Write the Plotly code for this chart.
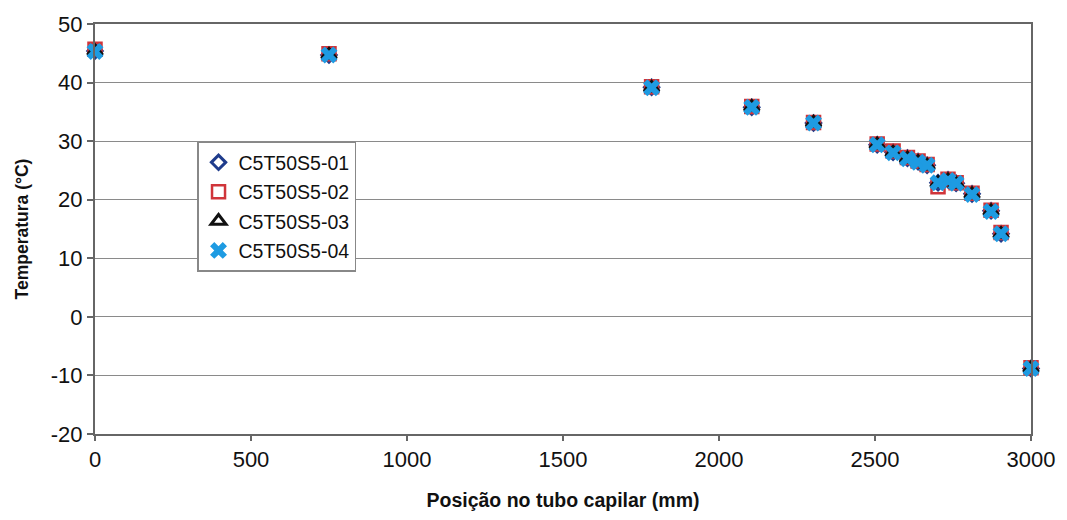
import plotly.graph_objects as go

positions = [0, 750, 1784, 2105, 2303, 2507, 2558, 2604, 2638, 2667, 2702, 2734, 2760, 2811, 2872, 2904, 3000]
temp_01 = [45.4, 44.7, 39.2, 35.8, 33.1, 29.4, 28.1, 27.1, 26.5, 25.9, 22.9, 23.4, 22.8, 21.0, 18.1, 14.2, -8.8]
temp_02 = [45.7, 44.9, 39.3, 35.9, 33.2, 29.5, 28.3, 27.2, 26.6, 26.0, 22.2, 23.5, 22.9, 21.1, 18.2, 14.4, -8.7]
temp_03 = [45.3, 44.7, 39.1, 35.8, 33.1, 29.4, 28.0, 27.0, 26.4, 25.8, 22.8, 23.3, 22.7, 20.9, 18.0, 14.1, -8.8]
temp_04 = [45.3, 44.7, 39.1, 35.8, 33.1, 29.4, 28.0, 27.0, 26.4, 25.9, 22.9, 23.3, 22.8, 20.9, 18.0, 14.2, -8.8]
series_names = ["C5T50S5-01", "C5T50S5-02", "C5T50S5-03", "C5T50S5-04"]
x_ticks = [0, 500, 1000, 1500, 2000, 2500, 3000]
y_ticks = [-20, -10, 0, 10, 20, 30, 40, 50]

styles = [
    dict(symbol="diamond-open", color="#1f3c8c", size=11, line=dict(width=3, color="#1f3c8c")),
    dict(symbol="square-open", color="#d0353a", size=13, line=dict(width=2.5, color="#d0353a")),
    dict(symbol="triangle-up-open", color="#111111", size=13, line=dict(width=3, color="#111111")),
    dict(symbol="x", color="#1e9be2", size=15, line=dict(width=0)),
]

fig = go.Figure()
for name, ys, st in zip(series_names, [temp_01, temp_02, temp_03, temp_04], styles):
    fig.add_trace(go.Scatter(
        x=positions, y=ys, mode="markers", name=name, legendgroup=name,
        marker=st, cliponaxis=False,
    ))

fig.update_layout(
    width=1067, height=520,
    margin=dict(l=95, r=35, t=21, b=86),
    paper_bgcolor="white", plot_bgcolor="white",
    font=dict(family="Liberation Sans, Arial, sans-serif", color="black"),
    showlegend=True,
    legend=dict(
        x=0.109, y=0.713, xanchor="left", yanchor="top",
        bgcolor="white", bordercolor="#888888", borderwidth=1.5,
        font=dict(size=19.5, color="#111111"),
        tracegroupgap=1, itemwidth=30,
    ),
)
fig.update_xaxes(
    range=[0, 3000], tickvals=x_ticks, ticktext=[str(v) for v in x_ticks],
    showgrid=False, showline=True, linecolor="#666666", linewidth=2, mirror=True,
    ticks="outside", ticklen=5, tickcolor="#666666", tickwidth=1.5,
    tickfont=dict(size=22, color="#111111"),
    title=dict(text="<b>Posição no tubo capilar (mm)</b>", font=dict(size=19.5, color="#111111"), standoff=22),
    zeroline=False,
)
fig.update_yaxes(
    range=[-20, 50], tickvals=y_ticks, ticktext=[str(v) for v in y_ticks],
    showgrid=True, gridcolor="#8a8a8a", gridwidth=1.2,
    showline=True, linecolor="#666666", linewidth=2, mirror=True,
    ticks="outside", ticklen=6, tickcolor="#666666", tickwidth=1.5,
    tickfont=dict(size=22, color="#111111"),
    title=dict(text="<b>Temperatura (°C)</b>", font=dict(size=17.5, color="#111111"), standoff=18),
    zeroline=False,
)

fig.write_html("out.html")
